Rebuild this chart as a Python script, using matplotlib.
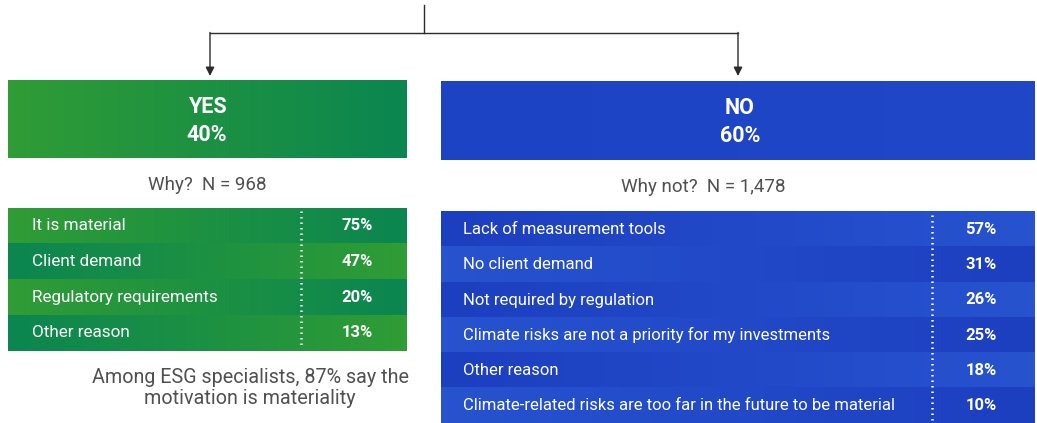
import numpy as np
import matplotlib.pyplot as plt
from matplotlib.colors import LinearSegmentedColormap

plt.rcParams['font.family'] = ['Roboto', 'DejaVu Sans']

# survey data
yes_share = 40
no_share = 60
yes_n = "968"
no_n = "1,478"

yes_reasons = ["It is material", "Client demand", "Regulatory requirements", "Other reason"]
yes_values = [75, 47, 20, 13]

no_reasons = ["Lack of measurement tools", "No client demand", "Not required by regulation",
              "Climate risks are not a priority for my investments", "Other reason",
              "Climate-related risks are too far in the future to be material"]
no_values = [57, 31, 26, 25, 18, 10]

note = "Among ESG specialists, 87% say the\nmotivation is materiality"

green_a = '#2f9c35'
green_b = '#0b8650'
blue_a = '#2753cf'
blue_b = '#1c3fc0'
grey = '#505050'

fig = plt.figure(figsize=(10.37, 4.23), dpi=100)
ax = fig.add_axes([0, 0, 1, 1])


def grad(x0, x1, y0, y1, c0, c1):
    cmap = LinearSegmentedColormap.from_list('g', [c0, c1])
    ax.imshow(np.linspace(0, 1, 64).reshape(1, -1), cmap=cmap, extent=(x0, x1, y1, y0),
              aspect='auto', interpolation='bilinear', zorder=1)


# connector lines + arrows
lc = '#2b2b2b'
ax.plot([424, 424], [5, 33], color=lc, lw=1)
ax.plot([210, 738], [33, 33], color=lc, lw=1)
for x in [210, 738]:
    ax.annotate('', xy=(x, 76), xytext=(x, 32.5),
                arrowprops=dict(arrowstyle='-|>', color=lc, lw=1, mutation_scale=13, shrinkA=0, shrinkB=0))

# header boxes
grad(8, 407, 80, 158, green_a, green_b)
grad(441, 1035, 81, 160, '#1c43c4', '#1f47c8')
hdr = dict(color='white', fontsize=15.5, fontweight='bold', ha='center', va='center', zorder=3)
ax.text(207, 107, "YES", **hdr)
ax.text(207, 135, f"{yes_share}%", **hdr)
ax.text(740, 108, "NO", **hdr)
ax.text(740, 136, f"{no_share}%", **hdr)

ax.text(207, 185, f"Why?  N = {yes_n}", color=grey, fontsize=13.5, ha='center', va='center')
ax.text(703, 187, f"Why not?  N = {no_n}", color=grey, fontsize=13.5, ha='center', va='center')

# YES table
top, rh = 208, 35.7
for i, (lab, v) in enumerate(zip(yes_reasons, yes_values)):
    y0 = top + i * rh
    if i % 2 == 0:
        grad(8, 407, y0, y0 + rh, green_a, green_b)
    else:
        grad(8, 407, y0, y0 + rh, green_b, green_a)
    ax.text(32, y0 + rh / 2, lab, color='white', fontsize=12.3, ha='left', va='center', zorder=3)
    ax.text(357, y0 + rh / 2, f"{v}%", color='white', fontsize=12, fontweight='bold', ha='center', va='center', zorder=3)
ax.plot([301, 301], [top + 3, top + len(yes_values) * rh - 3], color='white', lw=1.8,
        linestyle=(0, (0.6, 1.6)), zorder=3)

# NO table
top, rh = 212, 35.2
for i, (lab, v) in enumerate(zip(no_reasons, no_values)):
    y0 = top + i * rh
    if i % 2 == 0:
        grad(441, 1035, y0, y0 + rh, blue_b, blue_a)
    else:
        grad(441, 1035, y0, y0 + rh, blue_a, blue_b)
    ax.text(463, y0 + rh / 2, lab, color='white', fontsize=12, ha='left', va='center', zorder=3)
    ax.text(981, y0 + rh / 2, f"{v}%", color='white', fontsize=12, fontweight='bold', ha='center', va='center', zorder=3)
ax.plot([932, 932], [top + 3, top + len(no_values) * rh - 2], color='white', lw=1.8,
        linestyle=(0, (0.6, 1.6)), zorder=3)

ax.text(250, 388, note, color=grey, fontsize=14.2, ha='center', va='center', linespacing=1.1)

ax.set_xlim(0, 1037)
ax.set_ylim(423, 0)
ax.axis('off')
fig.savefig('out.png', dpi=100, facecolor='white')
